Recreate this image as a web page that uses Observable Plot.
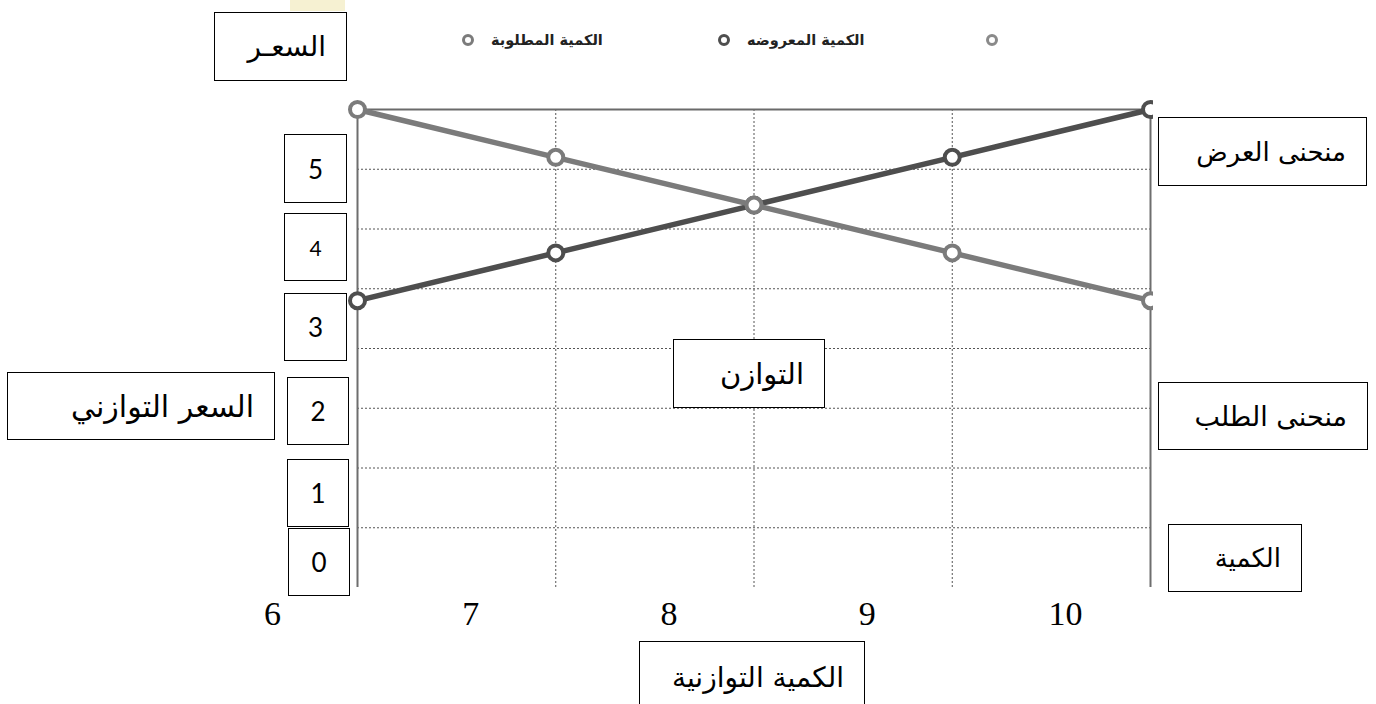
<!DOCTYPE html>
<html>
<head>
<meta charset="utf-8">
<script src="https://cdn.jsdelivr.net/npm/d3@7"></script>
<script src="https://cdn.jsdelivr.net/npm/@observablehq/plot@0.6"></script>
<style>
  html, body { margin: 0; padding: 0; background: #fff; }
  #wrap { position: relative; width: 1376px; height: 704px; overflow: hidden; background: #fff; }
  #chart { position: absolute; left: 0; top: 0; width: 1153px; height: 704px; overflow: hidden; }
  .box { position: absolute; box-sizing: border-box; border: 1.6px solid #000; background: #fff;
         display: flex; align-items: center; justify-content: flex-start; direction: rtl;
         font-family: "DejaVu Sans", Arial, sans-serif; color: #000; white-space: nowrap; }
  .num { justify-content: center; direction: ltr; font-family: Lato, "DejaVu Sans", sans-serif; }
  .leg { position: absolute; display: flex; align-items: center; height: 20px; }
  .legdot { box-sizing: border-box; width: 12px; height: 12px; border-radius: 50%; border: 3px solid; background: #fff; flex: none; }
  .legtxt { font-family: "DejaVu Sans", sans-serif; font-size: 14.5px; font-weight: bold; color: #222; direction: rtl; margin-left: 17px; }
  .stain { position: absolute; background: #f6f1d2; }
</style>
</head>
<body>
<div id="wrap"><div id="chart"></div></div>
<script>
// ---- data ----
const quantity = [6, 7, 8, 9, 10];
const demandPrice = [40, 36, 32, 28, 24];   // الكمية المطلوبة
const supplyPrice = [24, 28, 32, 36, 40];   // الكمية المعروضه
const seriesNames = ["الكمية المطلوبة", "الكمية المعروضه", ""];
const seriesColors = ["#7b7b7b", "#4e4e4e", "#8a8a8a"];
const gridValues = [5, 10, 15, 20, 25, 30, 35];
const priceLabels = ["5", "4", "3", "2", "1", "0"];
const noteLabels = ["السعـر", "منحنى العرض", "منحنى الطلب", "الكمية", "التوازن", "السعر التوازني", "الكمية التوازنية"];

// ---- layout (hand-placed annotation boxes of the original) ----
const priceBoxLayout = [
  [284, 134, 63, 69, 26], [284, 213, 63, 68, 21], [284, 293, 63, 68, 26],
  [287, 377, 62, 68, 26], [287, 459, 62, 68, 26], [288, 528, 62, 68, 26]
];
const noteBoxLayout = [
  [214, 12, 133, 69, 28], [1158, 117, 209, 69, 26], [1158, 382, 210, 68, 27],
  [1168, 524, 134, 68, 26], [673, 339, 152, 69, 29], [7, 372, 268, 68, 30], [639, 641, 226, 72, 28]
];
const legendLayout = [[462, 30], [718, 30], [986, 30]];

const demand = quantity.map((q, i) => ({q, p: demandPrice[i]}));
const supply = quantity.map((q, i) => ({q, p: supplyPrice[i]}));

const chart = Plot.plot({
  width: 1153,
  height: 704,
  marginLeft: 357,
  marginRight: 3,
  marginTop: 109,
  marginBottom: 117,
  x: {domain: [6, 10], axis: null},
  y: {domain: [0, 40], axis: null},
  style: {background: "transparent"},
  marks: [
    Plot.gridY(gridValues, {stroke: "#555", strokeOpacity: 1, strokeWidth: 1, strokeDasharray: "2,2"}),
    Plot.gridX(quantity.slice(1, -1), {stroke: "#555", strokeOpacity: 1, strokeWidth: 1, strokeDasharray: "2,2"}),
    Plot.ruleY([40], {stroke: "#6a6a6a", strokeWidth: 2}),
    Plot.ruleX([quantity[0], quantity[quantity.length - 1]], {stroke: "#6e6e6e", strokeWidth: 2}),
    Plot.axisX(quantity, {tickSize: 0, tickPadding: 13, dx: -85, fontSize: 34, label: null,
      fontFamily: "Liberation Serif", fill: "#000", tickFormat: d => String(d)}),
    Plot.line(supply, {x: "q", y: "p", stroke: seriesColors[1], strokeWidth: 5.5}),
    Plot.dot(supply, {x: "q", y: "p", r: 7.5, fill: "#fff", stroke: seriesColors[1], strokeWidth: 4}),
    Plot.line(demand, {x: "q", y: "p", stroke: seriesColors[0], strokeWidth: 5.5}),
    Plot.dot(demand, {x: "q", y: "p", r: 7.5, fill: "#fff", stroke: seriesColors[0], strokeWidth: 4})
  ]
});
document.getElementById("chart").appendChild(chart);

const wrap = document.getElementById("wrap");
function addBox(text, [l, t, w, h, fs], cls) {
  const d = document.createElement("div");
  d.className = "box" + (cls ? " " + cls : "");
  Object.assign(d.style, {left: l + "px", top: t + "px", width: w + "px", height: h + "px", fontSize: fs + "px"});
  if (!cls) d.style.paddingRight = "20px";
  d.textContent = text;
  wrap.appendChild(d);
}
priceLabels.forEach((t, i) => addBox(t, priceBoxLayout[i], "num"));
noteLabels.forEach((t, i) => addBox(t, noteBoxLayout[i]));

seriesNames.forEach((name, i) => {
  const g = document.createElement("div");
  g.className = "leg";
  g.style.left = legendLayout[i][0] + "px";
  g.style.top = legendLayout[i][1] + "px";
  const dot = document.createElement("div");
  dot.className = "legdot";
  dot.style.borderColor = seriesColors[i];
  g.appendChild(dot);
  if (name) {
    const s = document.createElement("span");
    s.className = "legtxt";
    s.textContent = name;
    g.appendChild(s);
  }
  wrap.appendChild(g);
});

// faint watermark remnant at the top edge
const st = document.createElement("div");
st.className = "stain";
Object.assign(st.style, {left: "290px", top: "0px", width: "55px", height: "11px"});
wrap.appendChild(st);
</script>
</body>
</html>
